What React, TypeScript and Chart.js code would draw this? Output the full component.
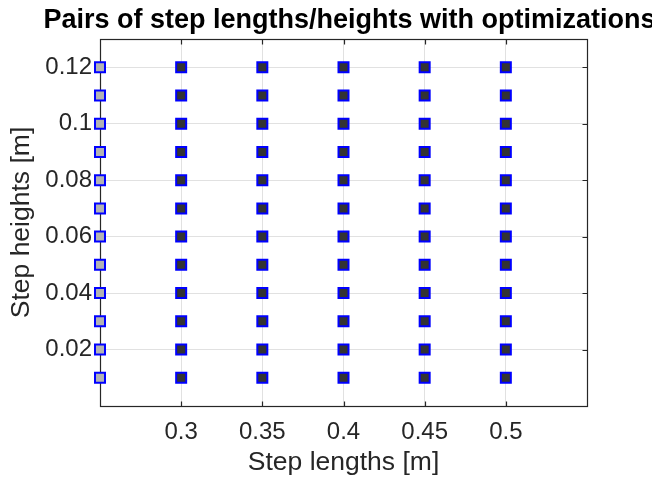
import { useEffect, useRef } from 'react';
import { Chart, registerables } from 'chart.js';

Chart.register(...registerables);

// Step heights tried for every step length [m]
const stepHeights = [0.01, 0.02, 0.03, 0.04, 0.05, 0.06, 0.07, 0.08, 0.09, 0.1, 0.11, 0.12];
// Step length without optimizations [m]
const baselineLengths = [0.25];
// Step lengths with optimizations [m]
const optimizedLengths = [0.3, 0.35, 0.4, 0.45, 0.5];

const xTickValues = [0.3, 0.35, 0.4, 0.45, 0.5];
const xTickLabels = ['0.3', '0.35', '0.4', '0.45', '0.5'];
const yTickValues = [0.02, 0.04, 0.06, 0.08, 0.1, 0.12];
const yTickLabels = ['0.02', '0.04', '0.06', '0.08', '0.1', '0.12'];

const titleText = 'Pairs of step lengths/heights with optimizations';
const FONT = '"Liberation Sans", Arial, Helvetica, sans-serif';
const AXIS_COLOR = '#262626';
const GRID_COLOR = '#e1e1e1';

const pairs = (lengths: number[]) =>
  lengths.flatMap((x) => stepHeights.map((y) => ({ x, y })));

// Box around the axes with inward tick marks, plus the title
const axesBox = {
  id: 'axesBox',
  beforeDatasetsDraw(chart: any) {
    const { ctx, chartArea, scales } = chart;
    const left = Math.round(chartArea.left) + 0.5;
    const right = Math.round(chartArea.right) + 0.5;
    const top = Math.round(chartArea.top) + 0.5;
    const bottom = Math.round(chartArea.bottom) + 0.5;
    const len = 5;
    ctx.save();
    ctx.strokeStyle = AXIS_COLOR;
    ctx.lineWidth = 1.2;
    ctx.beginPath();
    xTickValues.forEach((v) => {
      const px = Math.round(scales.x.getPixelForValue(v)) + 0.5;
      ctx.moveTo(px, bottom);
      ctx.lineTo(px, bottom - len);
      ctx.moveTo(px, top);
      ctx.lineTo(px, top + len);
    });
    yTickValues.forEach((v) => {
      const py = Math.round(scales.y.getPixelForValue(v)) + 0.5;
      ctx.moveTo(left, py);
      ctx.lineTo(left + len, py);
      ctx.moveTo(right, py);
      ctx.lineTo(right - len, py);
    });
    ctx.stroke();
    ctx.strokeRect(left, top, right - left, bottom - top);
    ctx.restore();
  },
  afterDraw(chart: any) {
    const { ctx, chartArea } = chart;
    ctx.save();
    ctx.font = `bold 27px ${FONT}`;
    ctx.fillStyle = '#000000';
    ctx.textAlign = 'center';
    ctx.textBaseline = 'alphabetic';
    ctx.fillText(titleText, (chartArea.left + chartArea.right) / 2 + 6, 28);
    ctx.restore();
  },
};

export default function App() {
  const canvasRef = useRef<HTMLCanvasElement | null>(null);

  useEffect(() => {
    const canvas = canvasRef.current;
    if (!canvas) return;
    const markerBase = {
      pointStyle: 'rect' as const,
      pointRadius: 7.07,
      pointHoverRadius: 7.07,
      pointBorderWidth: 2,
      pointBorderColor: '#0000ff',
      showLine: false,
      clip: false as const,
    };
    const chart = new Chart(canvas, {
      type: 'scatter',
      data: {
        datasets: [
          {
            ...markerBase,
            label: 'Without optimizations',
            data: pairs(baselineLengths),
            pointBackgroundColor: '#b3b3b3',
          },
          {
            ...markerBase,
            label: 'With optimizations',
            data: pairs(optimizedLengths),
            pointBackgroundColor: '#333333',
          },
        ],
      },
      options: {
        animation: false,
        responsive: false,
        devicePixelRatio: 1,
        layout: { padding: { top: 39, right: 65, left: 0, bottom: 0 } },
        plugins: {
          legend: { display: false },
          tooltip: { enabled: false },
          title: { display: false },
        },
        scales: {
          x: {
            type: 'linear',
            min: 0.25,
            max: 0.55,
            afterBuildTicks: (scale: any) => {
              scale.ticks = xTickValues.map((value) => ({ value }));
            },
            afterFit: (scale: any) => {
              scale.height = 78;
            },
            ticks: {
              autoSkip: false,
              maxRotation: 0,
              padding: 12,
              color: AXIS_COLOR,
              font: { family: FONT, size: 24 },
              callback: (value: any) => xTickLabels[xTickValues.indexOf(Number(value))] ?? '',
            },
            grid: { color: GRID_COLOR, lineWidth: 1, drawTicks: false },
            border: { display: false },
            title: {
              display: true,
              text: 'Step lengths [m]',
              color: AXIS_COLOR,
              font: { family: FONT, size: 26.5 },
              padding: { top: 0, bottom: 5 },
            },
          },
          y: {
            type: 'linear',
            min: 0,
            max: 0.13,
            afterBuildTicks: (scale: any) => {
              scale.ticks = yTickValues.map((value) => ({ value }));
            },
            afterFit: (scale: any) => {
              scale.width = 100;
            },
            ticks: {
              autoSkip: false,
              padding: 8,
              color: AXIS_COLOR,
              font: { family: FONT, size: 24 },
              callback: (value: any) => yTickLabels[yTickValues.indexOf(Number(value))] ?? '',
            },
            grid: { color: GRID_COLOR, lineWidth: 1, drawTicks: false },
            border: { display: false },
            title: {
              display: true,
              text: 'Step heights [m]',
              color: AXIS_COLOR,
              font: { family: FONT, size: 26.5 },
              padding: { top: 6, bottom: 0 },
            },
          },
        },
      },
      plugins: [axesBox],
    });
    return () => chart.destroy();
  }, []);

  return (
    <div style={{ position: 'absolute', left: 0, top: 0, width: 652, height: 484, background: '#ffffff' }}>
      <canvas ref={canvasRef} width={652} height={484} />
    </div>
  );
}
